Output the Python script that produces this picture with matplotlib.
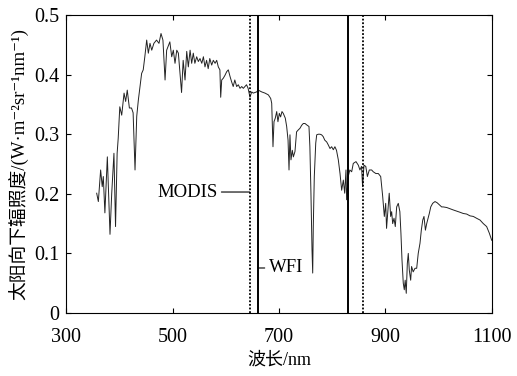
"""Downwelling solar irradiance spectrum with MODIS / WFI band positions."""
import matplotlib
matplotlib.use("Agg")
import matplotlib.pyplot as plt

plt.rcParams["font.family"] = ["Liberation Serif", "Noto Sans CJK SC", "DejaVu Serif"]

# spectrum (nm, W m-2 sr-1 nm-1)
wavelength = [
    357.6, 360.7, 365, 368, 370, 373, 377.6, 382.6, 385.8, 390, 393, 396, 398,
    401, 404.6, 409, 412, 415, 419, 423, 426, 429.6, 432.8, 435.8, 439, 442,
    445, 448, 451.5, 454.6, 457.7, 461, 465, 470, 474.6, 478.4, 482, 486, 489,
    493, 495, 498.5, 501.5, 504.7, 508, 511, 514, 517, 520, 523.5, 526.7,
    529.7, 533, 536, 539, 542, 545.4, 548.5, 551.6, 555, 558, 561, 564, 567,
    570, 573.6, 576.6, 580, 583, 586, 589, 590.5, 592.4, 595.4, 598.6, 601.8,
    604.8, 608, 611, 614, 617, 620.5, 623.6, 626.8, 630, 633, 639, 642, 645.5,
    648.7, 651.7, 658, 661, 667.5, 673.7, 680, 684.4, 686.3, 687.5, 688.7,
    690.6, 693, 695.7, 698, 700.6, 703, 705.6, 708, 711.8, 714.4, 717, 718.8,
    720.6, 722.5, 725, 727, 730, 733, 736, 739.4, 742.6, 745.6, 748.8, 753,
    756.3, 758, 760, 762, 763.3, 764.4, 766.3, 769, 770.8, 773.8, 777, 780,
    783, 786, 789.6, 792.6, 795.8, 798.9, 802, 805, 808, 811.4, 814.6, 817.7,
    820.8, 823.4, 825.8, 827, 830, 833, 836.5, 839.5, 844.6, 849, 852, 855,
    857, 859.6, 863, 866, 869.6, 874, 877, 882, 886.5, 891, 894.7, 897.8,
    900.4, 902, 905, 907, 909.7, 911.6, 913.5, 916, 918.4, 921, 924, 927, 929,
    931, 933.4, 935.3, 937, 939, 941, 942.8, 944.7, 947.3, 949, 952, 955.4,
    958.6, 961.5, 964.8, 967.3, 970, 972.3, 975, 977.4, 980, 982.3, 985,
    988.6, 993, 997, 1002, 1005.5, 1008.5, 1015, 1021, 1027, 1033.7, 1040,
    1046, 1052.5, 1058.7, 1065, 1071, 1077.5, 1083.7, 1090, 1095, 1099.5,
]
irradiance = [
    0.201, 0.187, 0.240, 0.212, 0.229, 0.168, 0.262, 0.132, 0.200, 0.268,
    0.145, 0.268, 0.293, 0.346, 0.332, 0.369, 0.355, 0.374, 0.344, 0.344,
    0.336, 0.240, 0.330, 0.357, 0.380, 0.402, 0.408, 0.430, 0.458, 0.436,
    0.4525, 0.441, 0.4525, 0.458, 0.4525, 0.469, 0.458, 0.391, 0.441, 0.450,
    0.455, 0.430, 0.441, 0.419, 0.441, 0.436, 0.402, 0.370, 0.424, 0.391,
    0.439, 0.413, 0.441, 0.419, 0.436, 0.419, 0.430, 0.422, 0.427, 0.419,
    0.430, 0.413, 0.424, 0.410, 0.427, 0.416, 0.424, 0.419, 0.424, 0.413,
    0.408, 0.362, 0.391, 0.394, 0.399, 0.405, 0.408, 0.397, 0.388, 0.380,
    0.391, 0.380, 0.383, 0.377, 0.380, 0.377, 0.383, 0.377, 0.362, 0.371,
    0.369, 0.371, 0.374, 0.371, 0.369, 0.366, 0.360, 0.352, 0.318, 0.279,
    0.321, 0.327, 0.338, 0.321, 0.335, 0.329, 0.338, 0.335, 0.327, 0.313,
    0.290, 0.240, 0.299, 0.257, 0.273, 0.262, 0.271, 0.304, 0.307, 0.310,
    0.315, 0.318, 0.318, 0.315, 0.313, 0.279, 0.201, 0.106, 0.067, 0.145,
    0.229, 0.285, 0.299, 0.300, 0.300, 0.299, 0.296, 0.290, 0.287, 0.282,
    0.276, 0.279, 0.274, 0.279, 0.273, 0.257, 0.234, 0.206, 0.223, 0.201,
    0.240, 0.190, 0.229, 0.240, 0.237, 0.251, 0.254, 0.248, 0.240, 0.246,
    0.212, 0.248, 0.246, 0.229, 0.240, 0.240, 0.237, 0.234, 0.234, 0.229,
    0.196, 0.162, 0.184, 0.142, 0.178, 0.201, 0.162, 0.170, 0.150, 0.159,
    0.145, 0.178, 0.184, 0.170, 0.134, 0.089, 0.050, 0.039, 0.055, 0.033,
    0.083, 0.100, 0.072, 0.055, 0.078, 0.069, 0.075, 0.075, 0.100, 0.117,
    0.139, 0.156, 0.162, 0.139, 0.150, 0.159, 0.167, 0.178, 0.184, 0.187,
    0.185, 0.181, 0.178, 0.178, 0.177, 0.175, 0.173, 0.171, 0.169, 0.167,
    0.166, 0.163, 0.162, 0.159, 0.156, 0.150, 0.145, 0.134, 0.122,
]

# band centres (nm)
modis_bands = [645, 858]
wfi_bands = [660, 830]

xticks = [300, 500, 700, 900, 1100]
yticks = [0, 0.1, 0.2, 0.3, 0.4, 0.5]

fig = plt.figure(figsize=(5.17, 3.76), dpi=100)
ax = fig.add_axes([0.1277, 0.1676, 0.8239, 0.7924])

ax.plot(wavelength, irradiance, color="#222222", lw=0.7)
for w in modis_bands:
    ax.axvline(w, color="black", lw=1.3, ls=(0, (1, 1)))
for w in wfi_bands:
    ax.axvline(w, color="black", lw=1.4)

# band labels with leader lines
ax.annotate("MODIS", xy=(modis_bands[0], 0.203), xytext=(584, 0.203),
            ha="right", va="center", fontsize=13.5,
            arrowprops=dict(arrowstyle="-", lw=0.8, color="black",
                            shrinkA=1, shrinkB=0))
ax.annotate("WFI", xy=(wfi_bands[0], 0.0755), xytext=(681, 0.0755),
            ha="left", va="center", fontsize=13.5,
            arrowprops=dict(arrowstyle="-", lw=0.8, color="black",
                            shrinkA=1, shrinkB=0))

ax.set_xlim(300, 1100)
ax.set_ylim(0, 0.5)
ax.set_xticks(xticks)
ax.set_yticks(yticks)
ax.set_yticklabels(["0", "0.1", "0.2", "0.3", "0.4", "0.5"])
ax.tick_params(direction="in", top=True, right=True, length=3.5, width=0.8,
               labelsize=14.5)
ax.tick_params(axis="x", pad=11)
ax.tick_params(axis="y", pad=5)
for s in ax.spines.values():
    s.set_linewidth(0.8)

ax.set_xlabel("波长/nm", fontsize=13, labelpad=3)
ax.set_ylabel("太阳向下辐照度/(W·m⁻²sr⁻¹nm⁻¹)", fontsize=13.5, labelpad=3)

fig.savefig("out.png", dpi=100)
